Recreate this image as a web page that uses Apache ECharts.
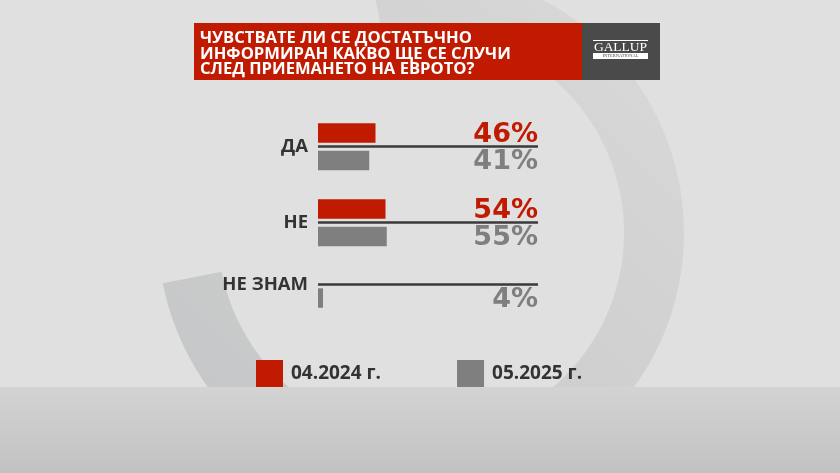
<!DOCTYPE html>
<html>
<head>
<meta charset="utf-8">
<script src="https://cdn.jsdelivr.net/npm/echarts@6/dist/echarts.min.js"></script>
<style>
  html, body { margin: 0; padding: 0; background: #e0e0e0; }
  #chart { width: 840px; height: 473px; }
</style>
</head>
<body>
<div id="chart"></div>
<script>
// Survey answers and the two survey waves
const questionLines = [
  'ЧУВСТВАТЕ ЛИ СЕ ДОСТАТЪЧНО',
  'ИНФОРМИРАН КАКВО ЩЕ СЕ СЛУЧИ',
  'СЛЕД ПРИЕМАНЕТО НА ЕВРОТО?'
];
const categories = ['ДА', 'НЕ', 'НЕ ЗНАМ'];
const periods = ['04.2024 г.', '05.2025 г.'];
const values2024 = [46, 54, null];
const values2025 = [41, 55, 4];
const brand = 'GALLUP';
const brandSub = 'INTERNATIONAL';

const RED = '#c01a00';
const GREY = '#7f7f7f';
const FONT = '"Open Sans", "DejaVu Sans", sans-serif';
const NUM_FONT = '"DejaVu Sans", "Open Sans", sans-serif';
const X_MAX = 176;
const seriesValues = [values2024, values2025];
const periodColors = [RED, GREY];

// one grid per answer row, centred on its divider line
const rowCenters = [146.7, 222.7, 284.3];
const ROW_H = 55;

const grids = [], xAxes = [], yAxes = [], series = [];
categories.forEach((cat, i) => {
  grids.push({ left: 318, width: 220, top: rowCenters[i] - ROW_H / 2, height: ROW_H, containLabel: false });
  xAxes.push({ type: 'value', gridIndex: i, min: 0, max: X_MAX, show: false });
  yAxes.push({
    type: 'category', gridIndex: i, data: [cat],
    axisLine: { show: false }, axisTick: { show: false },
    axisLabel: { margin: 10, color: '#333333', fontFamily: FONT, fontWeight: 700, fontSize: 18.5 }
  });
  periods.forEach((p, k) => {
    const v = seriesValues[k][i];
    series.push({
      name: p, type: 'bar', xAxisIndex: i, yAxisIndex: i,
      barWidth: 19.5, barGap: '41%',
      itemStyle: { color: periodColors[k] },
      data: [v == null ? '-' : v],
      silent: true
    });
  });
  // value labels, right-aligned at the end of the divider line
  const labelData = [];
  periods.forEach((p, k) => {
    const v = seriesValues[k][i];
    if (v != null) labelData.push([v, 0, k]);
  });
  series.push({
    name: 'values', type: 'custom', xAxisIndex: i, yAxisIndex: i, silent: true,
    encode: { x: 0, y: 1 },
    data: labelData,
    z: 3,
    markLine: {
      silent: true, symbol: 'none', label: { show: false },
      lineStyle: { color: '#3a3a3a', width: 2.5, type: 'solid' },
      data: [{ yAxis: cat }]
    },
    renderItem: (params, api) => {
      const k = api.value(2);
      const pt = api.coord([X_MAX, api.value(1)]);
      return {
        type: 'text', x: pt[0], y: pt[1] + (k === 0 ? -11.5 : 15.5),
        style: {
          text: api.value(0) + '%', align: 'right', verticalAlign: 'middle',
          fill: periodColors[k], font: '700 27px ' + NUM_FONT
        }
      };
    }
  });
});

const chart = echarts.init(document.getElementById('chart'), null, { renderer: 'canvas' });
chart.setOption({
  backgroundColor: '#e0e0e0',
  animation: false,
  grid: grids,
  xAxis: xAxes,
  yAxis: yAxes,
  legend: {
    data: periods, left: 256, top: 360, padding: 0,
    icon: 'rect', itemWidth: 27, itemHeight: 27, itemGap: 76,
    selectedMode: false,
    textStyle: { color: '#333333', fontFamily: FONT, fontWeight: 700, fontSize: 19, padding: [2, 0, 0, 3] }
  },
  graphic: [
    // decorative ring behind the chart
    {
      type: 'sector', z: -10, silent: true,
      shape: { cx: 421, cy: 233, r0: 203, r: 263, startAngle: -101 * Math.PI / 180, endAngle: 169 * Math.PI / 180, clockwise: true },
      style: {
        fill: new echarts.graphic.LinearGradient(1, 0, 0, 1, [
          { offset: 0, color: '#dadada' },
          { offset: 1, color: '#c3c4c5' }
        ])
      }
    },
    // floor band
    {
      type: 'rect', z: -9, silent: true,
      shape: { x: 0, y: 387, width: 840, height: 86 },
      style: {
        fill: new echarts.graphic.LinearGradient(0, 0, 0, 1, [
          { offset: 0, color: '#d3d3d3' },
          { offset: 1, color: '#c2c2c2' }
        ])
      }
    },
    // question header
    { type: 'rect', z: 1, silent: true, shape: { x: 194, y: 23, width: 388, height: 57 }, style: { fill: RED } },
    { type: 'rect', z: 1, silent: true, shape: { x: 582, y: 23, width: 78, height: 57 }, style: { fill: '#4a4a4a' } },
    {
      type: 'text', z: 2, silent: true, x: 200, y: 31,
      style: { text: questionLines.join('\n'), fill: '#ffffff', font: '700 16.6px ' + FONT, lineHeight: 15.2, verticalAlign: 'top' }
    },
    { type: 'rect', z: 2, silent: true, shape: { x: 593, y: 40, width: 55, height: 1 }, style: { fill: '#ffffff' } },
    {
      type: 'text', z: 2, silent: true, x: 620.5, y: 47,
      style: { text: brand, fill: '#ffffff', font: '13.5px "Liberation Serif", "DejaVu Serif", serif', align: 'center', verticalAlign: 'middle' }
    },
    { type: 'rect', z: 2, silent: true, shape: { x: 593, y: 53, width: 55, height: 6 }, style: { fill: '#ffffff' } },
    {
      type: 'text', z: 3, silent: true, x: 620.5, y: 56.2,
      style: { text: brandSub, fill: '#4a4a4a', font: '4.5px "Liberation Serif", serif', align: 'center', verticalAlign: 'middle' }
    }
  ],
  series: series
});
</script>
</body>
</html>
